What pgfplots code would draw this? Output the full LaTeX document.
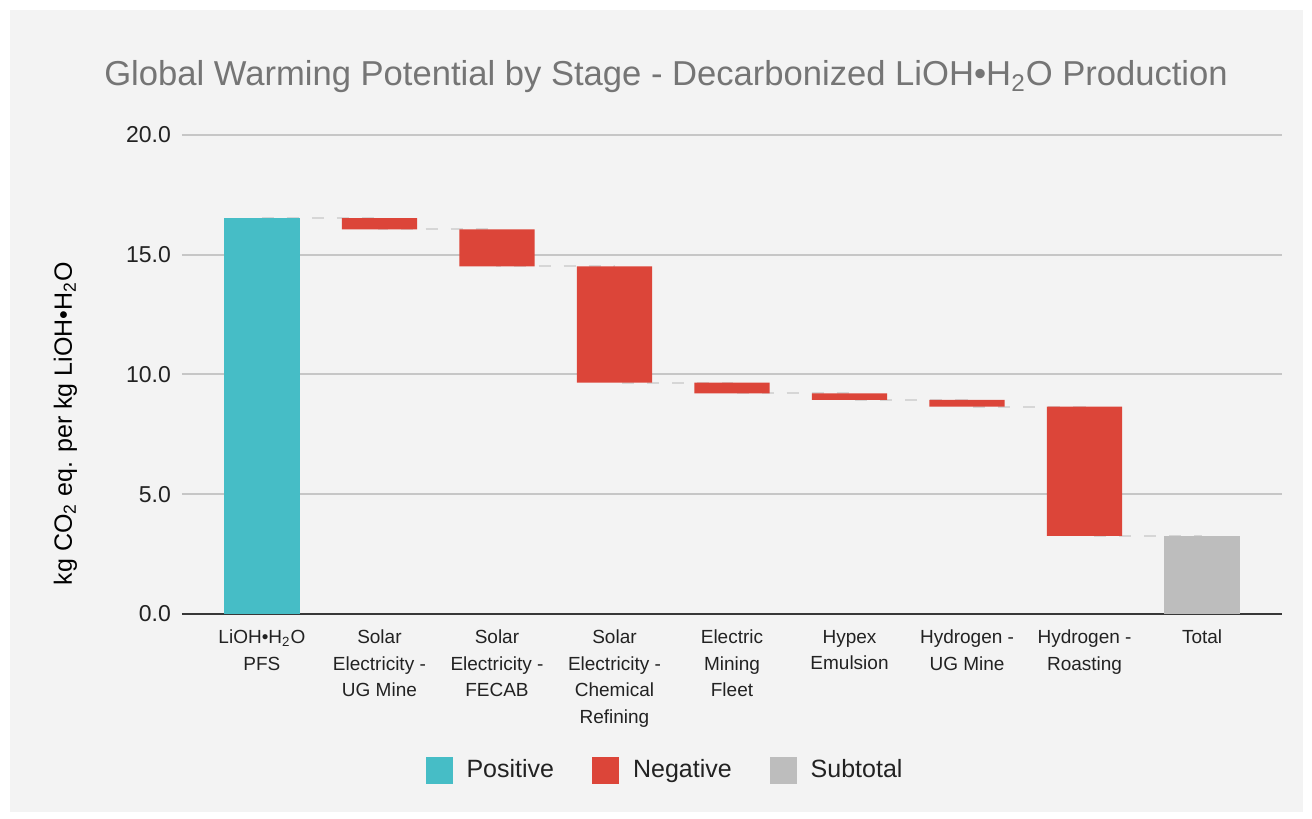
\documentclass[border=0pt]{standalone}
\usepackage{pgfplots}
\usepackage{pgfplotstable}
\pgfplotsset{compat=1.18}
\usepackage{fontspec}
\setmainfont{Liberation Sans}

\definecolor{bgc}{HTML}{F3F3F3}
\definecolor{posc}{HTML}{46BDC6}
\definecolor{negc}{HTML}{DC4539}
\definecolor{subc}{HTML}{BDBDBD}
\definecolor{gridc}{HTML}{C6C6C6}
\definecolor{dashc}{HTML}{D6D6D6}
\definecolor{titlec}{HTML}{757575}
\definecolor{txtc}{HTML}{222222}

% waterfall: base = invisible part, level = running total after the stage
\pgfplotstableread{
x base  pos   neg  sub  level
0 0     16.53 0    0    16.53
1 16.06 0     0.47 0    16.06
2 14.51 0     1.55 0    14.51
3 9.66  0     4.85 0    9.66
4 9.21  0     0.45 0    9.21
5 8.94  0     0.27 0    8.94
6 8.66  0     0.28 0    8.66
7 3.26  0     5.40 0    3.26
8 0     0     0    3.26 3.26
}\wf

\pgfplotsset{
  wfbox/.style={
    at={(0,0)}, anchor=south west,
    scale only axis, width=550pt, height=239.5pt,
    xmin=-0.68, xmax=8.68, ymin=0, ymax=20,
  }
}

\begin{document}
\begin{tikzpicture}
\path[use as bounding box, fill=white] (-91pt,-102.5pt) rectangle (565pt,307pt);
\fill[bgc] (-86pt,-99pt) rectangle (560.5pt,302pt);

% grid, labels, connectors
\begin{axis}[wfbox,
  axis x line*=bottom, axis y line*=left,
  axis line style={draw=none},
  major tick length=0pt,
  ytick={0,5,10,15,20},
  ymajorgrids, grid style={gridc, line width=1pt},
  /pgf/number format/.cd, fixed, fixed zerofill, precision=1, assume math mode=true,
  /pgfplots/.cd,
  yticklabel style={font=\fontsize{11.5}{14}\selectfont, text=txtc, xshift=-2pt},
  xtick={0,...,8},
  xticklabels={
    {LiOH•H\textsubscript{2}O\\PFS},
    {Solar\\Electricity -\\UG Mine},
    {Solar\\Electricity -\\FECAB},
    {Solar\\Electricity -\\Chemical\\Refining},
    {Electric\\Mining\\Fleet},
    {Hypex\\Emulsion},
    {Hydrogen -\\UG Mine},
    {Hydrogen -\\Roasting},
    {Total}},
  xticklabel style={font=\fontsize{9.5}{13.25}\selectfont, align=center, text=txtc, yshift=-4.5pt},
  ylabel={kg CO\textsubscript{2} eq. per kg LiOH•H\textsubscript{2}O},
  ylabel style={at={(axis description cs:-0.106,0.397)}, anchor=center,
    font=\fontsize{12.5}{14}\selectfont, text=black},
  title={Global Warming Potential by Stage - Decarbonized LiOH•H\textsubscript{2}O Production},
  title style={at={(axis description cs:0.44,1.096)}, anchor=center,
    font=\fontsize{17.3}{20}\selectfont, text=titlec},
]
\addplot[const plot, dashc, dash pattern=on 6pt off 6.5pt, line width=1pt]
  table[x=x, y=level]{\wf};
\end{axis}

% bars
\begin{axis}[wfbox,
  ybar stacked, bar width=0.64,
  axis x line*=bottom, axis y line=none,
  x axis line style={-, draw=txtc!90, line width=1pt},
  xtick=\empty, ytick=\empty,
  legend columns=3,
  legend style={at={(0.44,-0.326)}, anchor=center, draw=none, fill=none,
    font=\fontsize{12.5}{15}\selectfont, text=txtc,
    /tikz/every odd column/.append style={column sep=5pt},
    /tikz/every even column/.append style={column sep=17pt}},
  legend image code/.code={\fill[#1] (0pt,-6.75pt) rectangle (13.5pt,6.75pt);},
]
\addplot[fill=none, draw=none, forget plot] table[x=x, y=base]{\wf};
\addplot[fill=posc, draw=none] table[x=x, y=pos]{\wf};
\addlegendentry{Positive}
\addplot[fill=negc, draw=none] table[x=x, y=neg]{\wf};
\addlegendentry{Negative}
\addplot[fill=subc, draw=none] table[x=x, y=sub]{\wf};
\addlegendentry{Subtotal}
\end{axis}
\end{tikzpicture}
\end{document}
